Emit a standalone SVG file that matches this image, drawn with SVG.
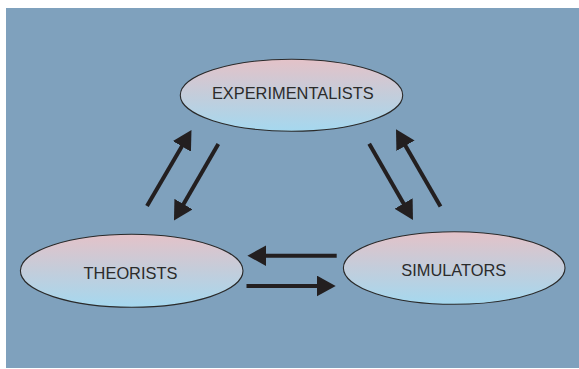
<svg xmlns="http://www.w3.org/2000/svg" width="579" height="369" viewBox="0 0 579 369">
  <defs>
    <linearGradient id="nodeGrad" x1="0" y1="0" x2="0" y2="1">
      <stop offset="0" stop-color="#e4c2c8"/>
      <stop offset="0.5" stop-color="#c3cddb"/>
      <stop offset="1" stop-color="#a5d8ef"/>
    </linearGradient>
    <marker id="head" markerUnits="userSpaceOnUse" markerWidth="20" markerHeight="21" refX="3" refY="10.5" orient="auto">
      <path d="M0,0 L19,10.5 L0,21 z" fill="#231f20"/>
    </marker>
  </defs>
  <style>
    .node ellipse { fill: url(#nodeGrad); stroke: #2a2a2a; stroke-width: 1.1; }
    .node text { font-family: "Liberation Sans", Arial, sans-serif; font-size: 16.4px; fill: #2b2b2b; text-anchor: middle; }
    .conn line { stroke: #231f20; stroke-width: 4; marker-end: url(#head); }
  </style>
  <rect x="6" y="8" width="573" height="360" fill="#7fa1bd"/>
  <g id="experimentalists" class="node">
    <ellipse cx="291.5" cy="95.2" rx="111.2" ry="36"/>
    <text x="292.8" y="98.5">EXPERIMENTALISTS</text>
  </g>
  <g id="theorists" class="node">
    <ellipse cx="131.7" cy="270.8" rx="111.3" ry="36.5"/>
    <text x="130.5" y="279.3">THEORISTS</text>
  </g>
  <g id="simulators" class="node">
    <ellipse cx="454.2" cy="268" rx="110.8" ry="36.3"/>
    <text x="453.8" y="275.7">SIMULATORS</text>
  </g>
  <g id="connectors" class="conn">
    <line x1="147" y1="206" x2="183.4" y2="143.8"/>
    <line x1="218.3" y1="144" x2="182" y2="206.7"/>
    <line x1="369.2" y1="143.7" x2="405" y2="206.1"/>
    <line x1="440.5" y1="206.5" x2="404" y2="143.2"/>
    <line x1="336.7" y1="255.7" x2="263.4" y2="255.7"/>
    <line x1="246.5" y1="286" x2="319.7" y2="286"/>
  </g>
</svg>
